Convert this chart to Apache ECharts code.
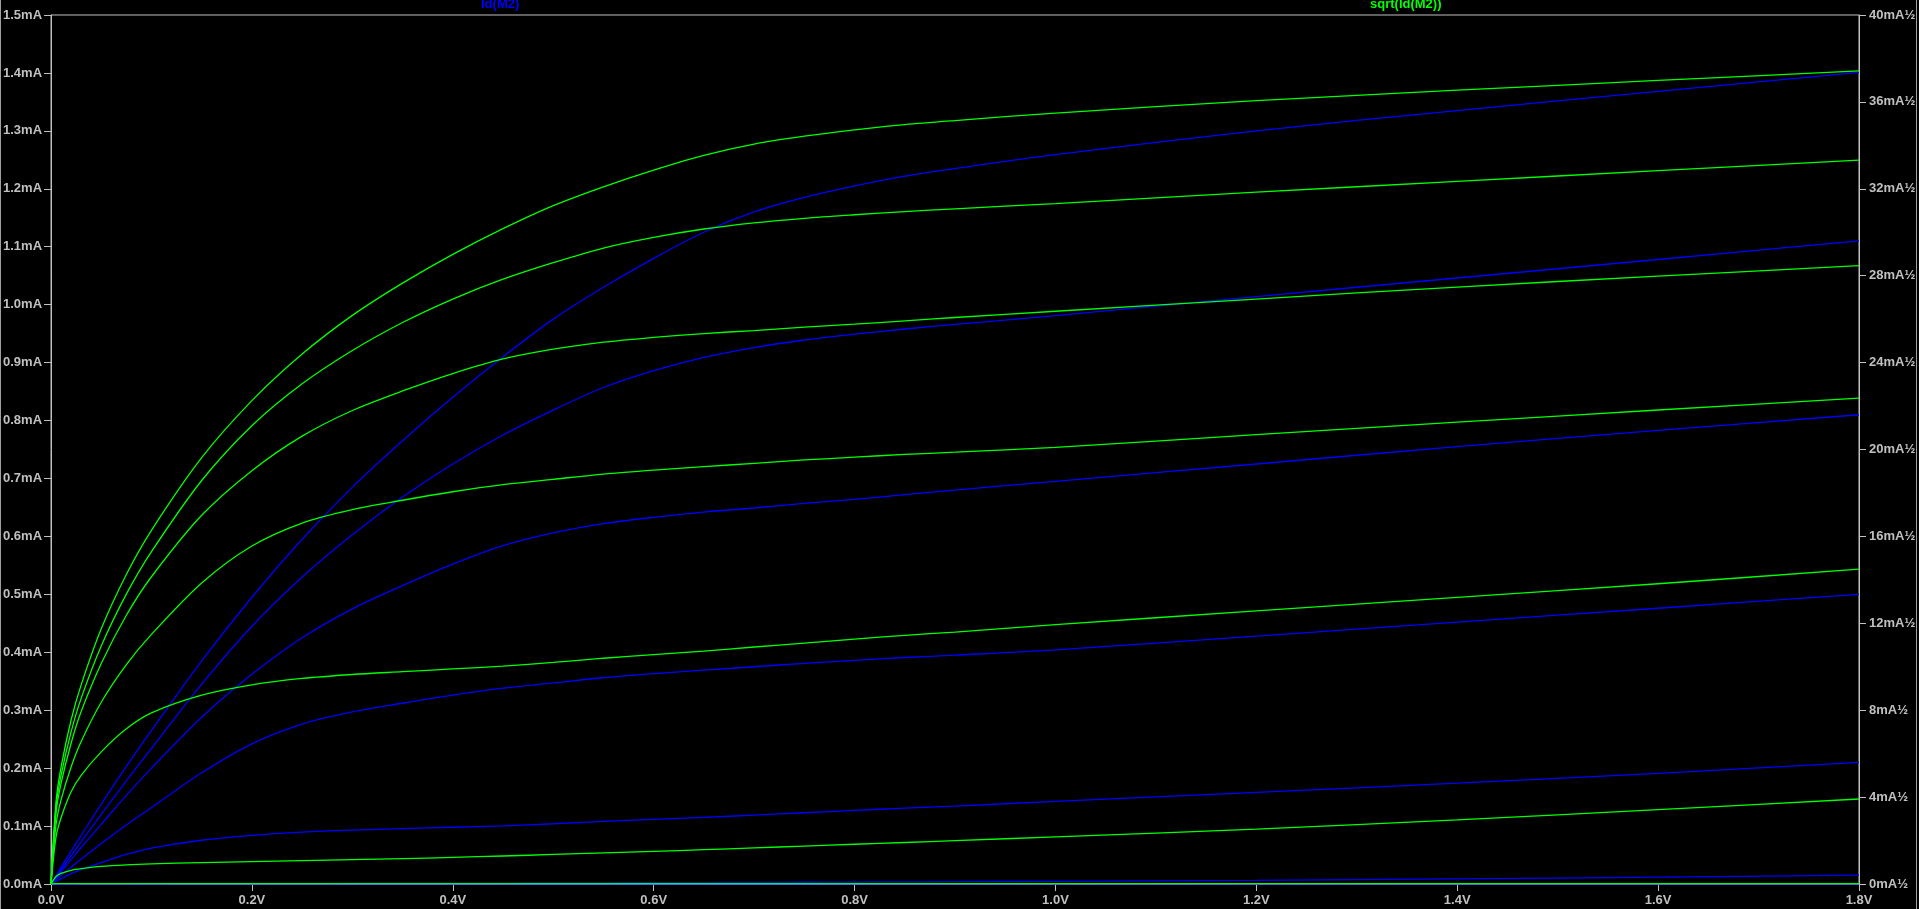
<!DOCTYPE html>
<html>
<head>
<meta charset="utf-8">
<style>
  html, body { margin: 0; padding: 0; background: #000; }
  #chart { width: 1919px; height: 909px; }
</style>
<script src="https://cdn.jsdelivr.net/npm/echarts@6/dist/echarts.min.js"></script>
</head>
<body>
<div id="chart"></div>
<script>
// Drain-source voltage samples (V)
const vds = [0, 0.005, 0.01, 0.02, 0.03, 0.05, 0.075, 0.1, 0.15, 0.2, 0.25, 0.3, 0.35, 0.4, 0.45, 0.5, 0.55, 0.6, 0.65, 0.7, 0.75, 0.8, 0.85, 0.9, 1.0, 1.2, 1.4, 1.6, 1.8];

// Id(M2) in mA, one curve per gate step
const idCurve1 = [0, 0.0000002, 0.0000002, 0.0000002, 0.0000002, 0.0000002, 0.0000002, 0.0000002, 0.0000002, 0.0000002, 0.0000002, 0.0000002, 0.0000002, 0.0000002, 0.0000002, 0.0000002, 0.0000002, 0.0000002, 0.0000002, 0.0000002, 0.0000002, 0.0000002, 0.0000002, 0.0000002, 0.0000002, 0.0000002, 0.0000002, 0.0000002, 0.0000002];
const idCurve2 = [0, 0.00012, 0.00024, 0.00040, 0.00050, 0.00066, 0.00078, 0.00086, 0.00097, 0.00106, 0.00116, 0.00126, 0.00136, 0.00150, 0.00166, 0.00185, 0.00205, 0.00225, 0.00250, 0.00275, 0.00305, 0.00335, 0.00365, 0.0040, 0.0047, 0.0064, 0.0087, 0.0117, 0.0153];
const idCurve3 = [0, 0.0047, 0.0093, 0.018, 0.025, 0.037, 0.051, 0.062, 0.0755, 0.084, 0.0895, 0.093, 0.0955, 0.098, 0.1005, 0.104, 0.108, 0.1115, 0.115, 0.119, 0.123, 0.127, 0.131, 0.1345, 0.1425, 0.158, 0.174, 0.191, 0.210];
const idCurve4 = [0, 0.0075, 0.015, 0.029, 0.043, 0.070, 0.102, 0.132, 0.192, 0.242, 0.276, 0.297, 0.312, 0.326, 0.338, 0.347, 0.356, 0.363, 0.369, 0.375, 0.381, 0.386, 0.391, 0.395, 0.404, 0.428, 0.452, 0.476, 0.500];
const idCurve5 = [0, 0.0108, 0.0215, 0.042, 0.063, 0.103, 0.153, 0.200, 0.288, 0.362, 0.425, 0.475, 0.515, 0.552, 0.584, 0.606, 0.622, 0.633, 0.642, 0.649, 0.657, 0.664, 0.672, 0.680, 0.695, 0.725, 0.755, 0.783, 0.810];
const idCurve6 = [0, 0.0125, 0.025, 0.049, 0.073, 0.120, 0.178, 0.234, 0.345, 0.445, 0.530, 0.603, 0.668, 0.725, 0.775, 0.818, 0.857, 0.886, 0.909, 0.926, 0.939, 0.949, 0.958, 0.966, 0.981, 1.014, 1.046, 1.078, 1.110];
const idCurve7 = [0, 0.0145, 0.029, 0.057, 0.084, 0.138, 0.203, 0.265, 0.385, 0.495, 0.595, 0.685, 0.765, 0.84, 0.91, 0.975, 1.03, 1.08, 1.125, 1.16, 1.185, 1.205, 1.222, 1.235, 1.259, 1.300, 1.335, 1.368, 1.401];

const idCurves = [idCurve1, idCurve2, idCurve3, idCurve4, idCurve5, idCurve6, idCurve7];

// Axis tick settings
const xTicks = { min: 0, max: 1.8, step: 0.2 };
const leftTicks = { min: 0, max: 1.5, step: 0.1 };
const rightTicks = { min: 0, max: 40, step: 4 };

const traceNames = ['Id(M2)', 'sqrt(Id(M2))'];

const labelColor = '#c0c0c0';
const font = '"Liberation Sans", Arial, sans-serif';

// sqrt(Id) expressed in mA^1/2 (Id in A -> sqrt -> x1000)
function sqrtTrace(arr) { return arr.map(v => Math.sqrt(v / 1000) * 1000); }

const series = [];
function addSeries(name, yIdx, vals, color) {
  series.push({
    type: 'line', name: name, xAxisIndex: 0, yAxisIndex: yIdx,
    data: vds.map((v, i) => [v, vals[i]]),
    showSymbol: false, symbol: 'none', smooth: 0.3,
    lineStyle: { color: color, width: 1.3 }, itemStyle: { color: color },
    silent: true, animation: false
  });
}
idCurves.forEach(c => addSeries(traceNames[0], 0, c, '#0000ff'));
idCurves.forEach(c => addSeries(traceNames[1], 1, sqrtTrace(c), '#00ff00'));

const chart = echarts.init(document.getElementById('chart'), null, { renderer: 'canvas' });
chart.setOption({
  backgroundColor: '#000000',
  animation: false,
  grid: { left: 48, right: 60, top: 15, bottom: 25, show: true, borderColor: labelColor, borderWidth: 1, backgroundColor: '#000' },
  xAxis: [{
    type: 'value', min: xTicks.min, max: xTicks.max, interval: xTicks.step,
    axisLine: { show: true, onZero: false, lineStyle: { color: labelColor, width: 1 } },
    axisTick: { show: true, length: 7, lineStyle: { color: labelColor } },
    splitLine: { show: false },
    axisLabel: { color: labelColor, fontSize: 13, fontWeight: 'bold', fontFamily: font, margin: 10,
      formatter: v => v.toFixed(1) + 'V' }
  }],
  yAxis: [{
    type: 'value', position: 'left', min: leftTicks.min, max: leftTicks.max, interval: leftTicks.step,
    axisLine: { show: true, onZero: false, lineStyle: { color: labelColor, width: 1 } },
    axisTick: { show: true, length: 7, lineStyle: { color: labelColor } },
    splitLine: { show: false },
    axisLabel: { color: labelColor, fontSize: 13, fontWeight: 'bold', fontFamily: font, margin: 9,
      formatter: v => v.toFixed(1) + 'mA' }
  }, {
    type: 'value', position: 'right', min: rightTicks.min, max: rightTicks.max, interval: rightTicks.step,
    axisLine: { show: true, onZero: false, lineStyle: { color: labelColor, width: 1 } },
    axisTick: { show: true, length: 7, lineStyle: { color: labelColor } },
    splitLine: { show: false },
    axisLabel: { color: labelColor, fontSize: 13, fontWeight: 'bold', fontFamily: font, margin: 10,
      formatter: v => Math.round(v) + 'mA½' }
  }],
  graphic: [
    { type: 'text', left: 481, top: -2, style: { text: traceNames[0], fill: '#0000ff', font: 'bold 13px ' + font } },
    { type: 'text', left: 1370, top: -2, style: { text: traceNames[1], fill: '#00ff00', font: 'bold 13px ' + font } },
    { type: 'rect', shape: { x: 0, y: 0, width: 1, height: 909 }, style: { fill: '#a0a0a0' }, silent: true },
    { type: 'rect', shape: { x: 1916, y: 0, width: 1, height: 909 }, style: { fill: '#a0a0a0' }, silent: true }
  ],
  series: series
});
</script>
</body>
</html>
